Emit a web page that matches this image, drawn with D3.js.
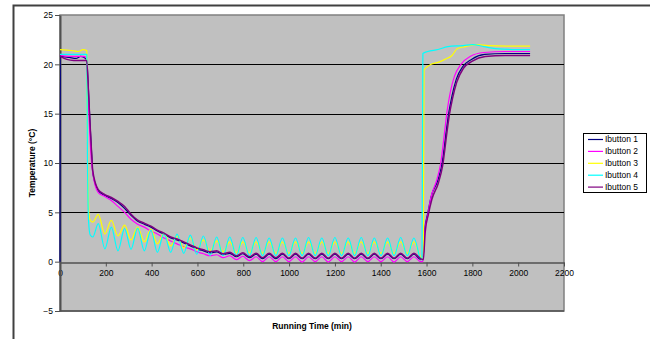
<!DOCTYPE html>
<html>
<head>
<meta charset="utf-8">
<script src="https://cdn.jsdelivr.net/npm/d3@7"></script>
<style>
  body { margin: 0; background: #fff; }
  svg { display: block; font-family: "Liberation Sans", Arial, sans-serif; }
</style>
</head>
<body>
<div class="chart"></div>
<script>
// series names and colours (Excel defaults)
const names = ["Ibutton 1", "Ibutton 2", "Ibutton 3", "Ibutton 4", "Ibutton 5"];
const colors = ["#000080", "#ff00ff", "#ffff00", "#00ffff", "#800080"];

const xTicks = d3.range(0, 2201, 200);
const yTicks = [-5, 0, 5, 10, 15, 20, 25];

// start of run and drop into the cold room: [min, degC]
const head1 = [[0, 0], [2, 20.8], [40, 20.7], [70, 20.6], [90, 20.8], [112, 20.6], [117, 20.4], [125, 17.0], [132, 13.6], [139, 10.6]];
const head2 = [[0, 20.9], [40, 20.8], [100, 20.8], [114, 20.7], [122, 17.0], [129, 13.5], [136, 10.5]];
const head3 = [[0, 21.5], [50, 21.4], [80, 21.3], [100, 21.5], [117, 21.4], [120, 12], [124, 6], [130, 4.3]];
const head4 = [[0, 21.0], [117, 21.0], [120, 10], [125, 4], [132, 2.7]];
const head5 = [[0, 20.9], [10, 20.7], [30, 20.5], [60, 20.4], [116, 20.4], [124, 17.4], [131, 14.0], [138, 11.0]];

// cold phase, read at the peaks and troughs of the cooling cycle
const coldTime = [143, 167, 196, 224, 253, 282, 310, 339, 368, 397, 425, 454, 483, 511, 540, 569, 597,
  626, 655, 684, 712, 741, 770, 798, 827, 856, 884, 913, 942, 971, 999, 1028, 1057, 1085, 1114,
  1143, 1171, 1200, 1229, 1258, 1286, 1315, 1344, 1372, 1401, 1430, 1458, 1487, 1516, 1545, 1574];
const cold1 = [9.0, 7.2, 6.7, 6.4, 6.0, 5.4, 4.7, 4.1, 3.8, 3.5, 3.1, 2.8, 2.4, 2.2, 1.9, 1.6, 1.3,
  1.1, 0.9, 1.0, 0.7, 0.85, 0.5, 0.8, 0.4, 0.75, 0.3, 0.75, 0.3, 0.75, 0.3, 0.75, 0.3, 0.75, 0.3,
  0.75, 0.3, 0.75, 0.3, 0.75, 0.3, 0.75, 0.3, 0.75, 0.3, 0.75, 0.3, 0.75, 0.3, 0.75, 0.2];
const cold2 = [9.0, 7.0, 6.6, 6.2, 5.6, 5.0, 4.3, 3.8, 3.5, 3.1, 2.8, 2.4, 2.1, 1.8, 1.5, 1.3, 1.0,
  0.8, 0.6, 0.7, 0.4, 0.6, 0.2, 0.55, 0.1, 0.5, 0.0, 0.5, 0.0, 0.5, 0.0, 0.5, -0.05, 0.5, 0.0,
  0.5, -0.05, 0.5, 0.0, 0.5, -0.05, 0.5, 0.0, 0.5, 0.0, 0.5, -0.05, 0.5, 0.0, 0.5, 0.0];
const cold3 = [4.0, 4.8, 2.8, 4.2, 2.6, 3.7, 2.2, 3.5, 2.0, 3.3, 1.8, 2.9, 1.6, 2.6, 1.4, 2.4, 1.2,
  2.2, 1.1, 2.1, 1.0, 2.0, 0.9, 2.0, 0.9, 2.0, 0.85, 2.0, 0.85, 2.0, 0.85, 2.0, 0.85, 2.0, 0.85,
  2.0, 0.85, 2.0, 0.85, 2.0, 0.85, 2.0, 0.85, 2.0, 0.85, 2.0, 0.85, 2.0, 0.85, 2.0, 0.5];
const cold4 = [2.5, 3.85, 1.3, 3.5, 1.1, 3.35, 1.25, 3.4, 1.1, 3.2, 0.95, 2.9, 0.95, 2.8, 0.85, 2.7, 0.75,
  2.6, 0.65, 2.5, 0.6, 2.5, 0.6, 2.45, 0.6, 2.45, 0.6, 2.4, 0.6, 2.4, 0.6, 2.4, 0.6, 2.45, 0.6,
  2.4, 0.6, 2.45, 0.6, 2.4, 0.6, 2.45, 0.6, 2.4, 0.6, 2.4, 0.6, 2.45, 0.6, 2.4, 0.3];
const cold5 = [9.2, 7.3, 6.8, 6.5, 6.1, 5.6, 4.8, 4.2, 3.9, 3.6, 3.2, 2.9, 2.5, 2.3, 2.0, 1.7, 1.4,
  1.2, 1.0, 1.1, 0.8, 0.95, 0.6, 0.9, 0.5, 0.85, 0.4, 0.85, 0.4, 0.85, 0.35, 0.85, 0.35, 0.85, 0.35,
  0.85, 0.35, 0.85, 0.35, 0.85, 0.35, 0.85, 0.35, 0.85, 0.35, 0.85, 0.35, 0.85, 0.35, 0.85, 0.3];

// warm-up back to room temperature
const tail1 = [[1584, 0.3], [1592, 3.2], [1606, 5.0], [1620, 6.6], [1650, 8.3], [1668, 10.0], [1687, 13.4], [1697, 15.1], [1711, 16.8], [1730, 18.5], [1759, 19.8], [1796, 20.5], [1854, 21.0], [1943, 21.1], [2052, 21.1]];
const tail2 = [[1584, 0.0], [1592, 3.0], [1606, 4.8], [1618, 6.4], [1645, 8.3], [1662, 10.0], [1680, 13.4], [1690, 15.3], [1704, 17.2], [1722, 18.8], [1750, 20.0], [1790, 20.8], [1850, 21.2], [1943, 21.3], [2052, 21.3]];
const tail3 = [[1586, 0.3], [1589, 19.4], [1600, 19.7], [1620, 20.0], [1650, 20.2], [1680, 20.5], [1711, 20.9], [1735, 21.6], [1770, 21.8], [1820, 22.0], [1870, 21.9], [1950, 21.85], [2052, 21.85]];
const tail4 = [[1580, 0.2], [1582, 10], [1584, 21.1], [1605, 21.3], [1650, 21.5], [1693, 21.8], [1760, 21.9], [1800, 22.0], [1850, 21.8], [1900, 21.6], [2000, 21.5], [2052, 21.5]];
const tail5 = [[1586, 0.2], [1594, 3.0], [1608, 4.8], [1623, 6.3], [1652, 8.0], [1670, 9.7], [1689, 13.1], [1699, 14.8], [1713, 16.5], [1732, 18.2], [1761, 19.6], [1798, 20.3], [1856, 20.8], [1943, 20.9], [2052, 20.9]];

const heads = [head1, head2, head3, head4, head5];
const colds = [cold1, cold2, cold3, cold4, cold5];
const tails = [tail1, tail2, tail3, tail4, tail5];

const series = names.map((n, i) => ({
  name: n,
  color: colors[i],
  values: heads[i].concat(coldTime.map((t, j) => [t, colds[i][j]]), tails[i])
}));

//Sizes
const W = 650, H = 339;
const plot = {left: 60, top: 15, right: 564, bottom: 311};

const svg = d3.select('.chart')
  .append('svg')
  .attr('width', W)
  .attr('height', H);

//Scales
const x = d3.scaleLinear().domain([0, 2200]).range([plot.left, plot.right]);
const y = d3.scaleLinear().domain([-5, 25]).range([plot.bottom, plot.top]);

//Outer chart border
svg.append('rect')
  .attr('x', 13.5).attr('y', 5.5)
  .attr('width', 700).attr('height', 400)
  .attr('fill', '#fff')
  .attr('stroke', '#404040')
  .attr('stroke-width', 2);

//Plot area
svg.append('rect')
  .attr('x', plot.left).attr('y', plot.top)
  .attr('width', plot.right - plot.left)
  .attr('height', plot.bottom - plot.top)
  .attr('fill', '#c0c0c0')
  .attr('stroke', '#808080')
  .attr('stroke-width', 1.5);

//Gridlines
svg.append('g')
  .selectAll('line')
  .data([5, 10, 15, 20])
  .join('line')
  .attr('x1', plot.left).attr('x2', plot.right)
  .attr('y1', d => Math.round(y(d)) + 0.5).attr('y2', d => Math.round(y(d)) + 0.5)
  .attr('stroke', '#000')
  .attr('stroke-width', 1);

//Bottom border a bit darker
svg.append('line')
  .attr('x1', plot.left).attr('x2', plot.right)
  .attr('y1', plot.bottom).attr('y2', plot.bottom)
  .attr('stroke', '#505050').attr('stroke-width', 1.5);

//Axes
const xAxis = d3.axisBottom(x).tickValues(xTicks).tickFormat(d3.format('d')).tickSize(4).tickSizeOuter(0);
const yAxis = d3.axisLeft(y).tickValues(yTicks).tickFormat(d3.format('d')).tickSize(5).tickSizeOuter(0);

const xg = svg.append('g')
  .attr('transform', `translate(0,${Math.round(y(0)) + 0.5})`)
  .call(xAxis);
xg.select('.domain').attr('stroke', '#505050').attr('stroke-width', 1.5);
xg.selectAll('.tick line').attr('stroke', '#505050');
xg.selectAll('.tick text')
  .attr('y', 7)
  .attr('font-size', 8.5)
  .attr('font-family', '"Liberation Sans", Arial, sans-serif')
  .attr('fill', '#000');

const yg = svg.append('g')
  .attr('transform', `translate(${plot.left},0)`)
  .call(yAxis);
yg.select('.domain').attr('stroke', '#505050').attr('stroke-width', 2);
yg.selectAll('.tick line').attr('stroke', '#505050');
yg.selectAll('.tick text')
  .attr('x', -7)
  .attr('font-size', 8.5)
  .attr('font-family', '"Liberation Sans", Arial, sans-serif')
  .attr('fill', '#000');

//Lines
const line = d3.line()
  .x(d => x(d[0]))
  .y(d => y(d[1]))
  .curve(d3.curveMonotoneX);

svg.append('g')
  .selectAll('path')
  .data(series)
  .join('path')
  .attr('d', d => line(d.values))
  .attr('fill', 'none')
  .attr('stroke', d => d.color)
  .attr('stroke-width', (d, i) => i === 4 ? 1.5 : 1.2)
  .attr('stroke-linejoin', 'round');

//Axis titles
svg.append('text')
  .attr('x', (plot.left + plot.right) / 2)
  .attr('y', 329)
  .attr('text-anchor', 'middle')
  .attr('font-size', 8.5)
  .attr('font-weight', 'bold')
  .text('Running Time (min)');

svg.append('text')
  .attr('transform', `translate(35,${(plot.top + plot.bottom) / 2}) rotate(-90)`)
  .attr('text-anchor', 'middle')
  .attr('font-size', 8.5)
  .attr('font-weight', 'bold')
  .text('Temperature (°C)');

//Legend
const legend = svg.append('g').attr('transform', 'translate(583,133)');
legend.append('rect')
  .attr('x', 0.5).attr('y', 0.5)
  .attr('width', 63).attr('height', 59)
  .attr('fill', '#fff')
  .attr('stroke', '#000');

const item = legend.selectAll('g.item')
  .data(series)
  .join('g')
  .attr('class', 'item')
  .attr('transform', (d, i) => `translate(0,${6.5 + i * 11.9})`);
item.append('line')
  .attr('x1', 5).attr('x2', 20)
  .attr('stroke', d => d.color)
  .attr('stroke-width', 1.2);
item.append('text')
  .attr('x', 22)
  .attr('dy', '0.35em')
  .attr('font-size', 8.5)
  .text(d => d.name);
</script>
</body>
</html>
